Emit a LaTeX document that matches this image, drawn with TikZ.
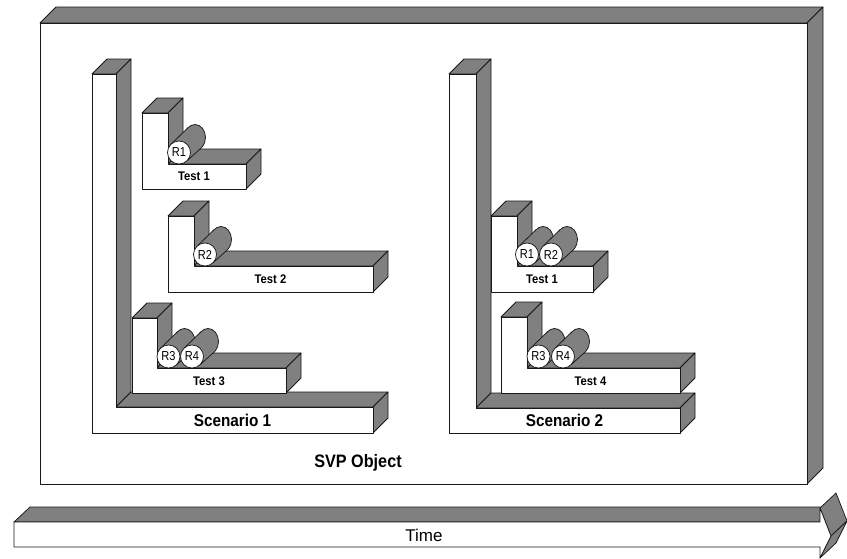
\documentclass[tikz,border=0pt]{standalone}
\usepackage{fontspec}
\setmainfont{Liberation Sans}
\newfontfamily\narrowfont[FakeStretch=0.9]{Liberation Sans}
\newfontfamily\rollfont[FakeStretch=0.85]{Liberation Sans}
\usepackage{tikz}

% L-shaped block: x left, x inner, x right, y top, y inner, y bottom
\newcommand{\lblock}[6]{
  \filldraw[face] (#1,#4) -- ({#1+15},{#4-15}) -- ({#2+15},{#4-15}) -- (#2,#4) -- cycle;
  \filldraw[face] (#2,#4) -- ({#2+15},{#4-15}) -- ({#2+15},{#5-15}) -- (#2,#5) -- cycle;
  \filldraw[face] (#2,#5) -- ({#2+15},{#5-15}) -- ({#3+15},{#5-15}) -- (#3,#5) -- cycle;
  \filldraw[face] (#3,#5) -- ({#3+15},{#5-15}) -- ({#3+15},{#6-15}) -- (#3,#6) -- cycle;
  \filldraw[front] (#1,#4) -- (#2,#4) -- (#2,#5) -- (#3,#5) -- (#3,#6) -- (#1,#6) -- cycle;
}
% roll: name, x, y, label
\newcommand{\roll}[4]{
  \filldraw[face] ({#2+16},{#3-15}) ellipse [x radius=10.5, y radius=13];
  \fill[gray] ({#2+8.13},{#3+8.13}) -- ({#2+22.6},{#3-4.88}) -- ({#2+9.4},{#3-25.12}) -- ({#2-8.13},{#3-8.13}) -- cycle;
  \draw[edge] ({#2+8.13},{#3+8.13}) -- ({#2+22.6},{#3-4.88});
  \draw[edge] ({#2-8.13},{#3-8.13}) -- ({#2+9.4},{#3-25.12});
  \node[roll] (#1) at (#2,#3) {#4};
}

\begin{document}
\begin{tikzpicture}[x=1pt, y=-1pt,
  edge/.style = {draw=black!90, line width=0.75pt, line join=round},
  face/.style = {edge, fill=gray},
  front/.style = {edge, fill=white},
  roll/.style = {circle, edge, fill=white, minimum size=23pt, inner sep=0pt, font=\rollfont\fontsize{13}{13}\selectfont},
  lbl/.style = {font=\narrowfont\bfseries\fontsize{12.5}{12.5}\selectfont},
  scen/.style = {font=\narrowfont\bfseries\fontsize{17}{17}\selectfont},
  title/.style = {font=\narrowfont\bfseries\fontsize{18}{18}\selectfont},
  timelbl/.style = {font=\fontsize{17}{17}\selectfont}]
  \useasboundingbox (0,0) rectangle (847,558);

  % SVP object box
  \filldraw[face] (40,23) -- (56,7) -- (823,7) -- (807,23) -- cycle;
  \filldraw[face] (807,23) -- (823,7) -- (823,468) -- (807,484) -- cycle;
  \filldraw[front] (40,23) rectangle (807,484);
  \node[title] (svp) at (358,463) {SVP Object};

  % scenario 1
  \lblock{92}{116}{373}{74}{407}{433}
  \node[scen] (s1) at (232.5,420) {Scenario 1};
  \lblock{142}{168}{246}{113}{164}{189}
  \roll{r11}{179}{152.5}{R1}
  \node[lbl] (t11) at (194,176.5) {Test 1};
  \lblock{168}{194}{373}{216}{266}{292}
  \roll{r12}{205}{254.5}{R2}
  \node[lbl] (t12) at (270.5,279) {Test 2};
  \lblock{132}{157}{286}{318}{368}{393}
  \roll{r13}{168.5}{356.5}{R3}
  \roll{r14}{192}{356.5}{R4}
  \node[lbl] (t13) at (209,381) {Test 3};

  % scenario 2
  \lblock{449}{476}{680}{74}{408}{433}
  \node[scen] (s2) at (564.5,420.5) {Scenario 2};
  \lblock{491}{517}{593}{216}{266}{292}
  \roll{r21}{527}{254.5}{R1}
  \roll{r22}{551}{254.5}{R2}
  \node[lbl] (t21) at (542,279) {Test 1};
  \lblock{501}{527}{680}{317}{368}{393}
  \roll{r23}{538.5}{356.5}{R3}
  \roll{r24}{563}{356.5}{R4}
  \node[lbl] (t24) at (590.5,381) {Test 4};

  % time arrow
  \filldraw[face] (14,522) -- (30,507) -- (836,507) -- (820,522) -- cycle;
  \filldraw[face] (820,508) -- (836,493) -- (847,521) -- (831,536) -- cycle;
  \filldraw[face] (831,536) -- (847,521) -- (836,543) -- (820,558) -- cycle;
  \filldraw[front] (14,522) -- (820,522) -- (820,508) -- (831,536) -- (820,558) -- (820,547) -- (14,547) -- cycle;
  \node[timelbl] (time) at (424,535) {Time};
\end{tikzpicture}
\end{document}
